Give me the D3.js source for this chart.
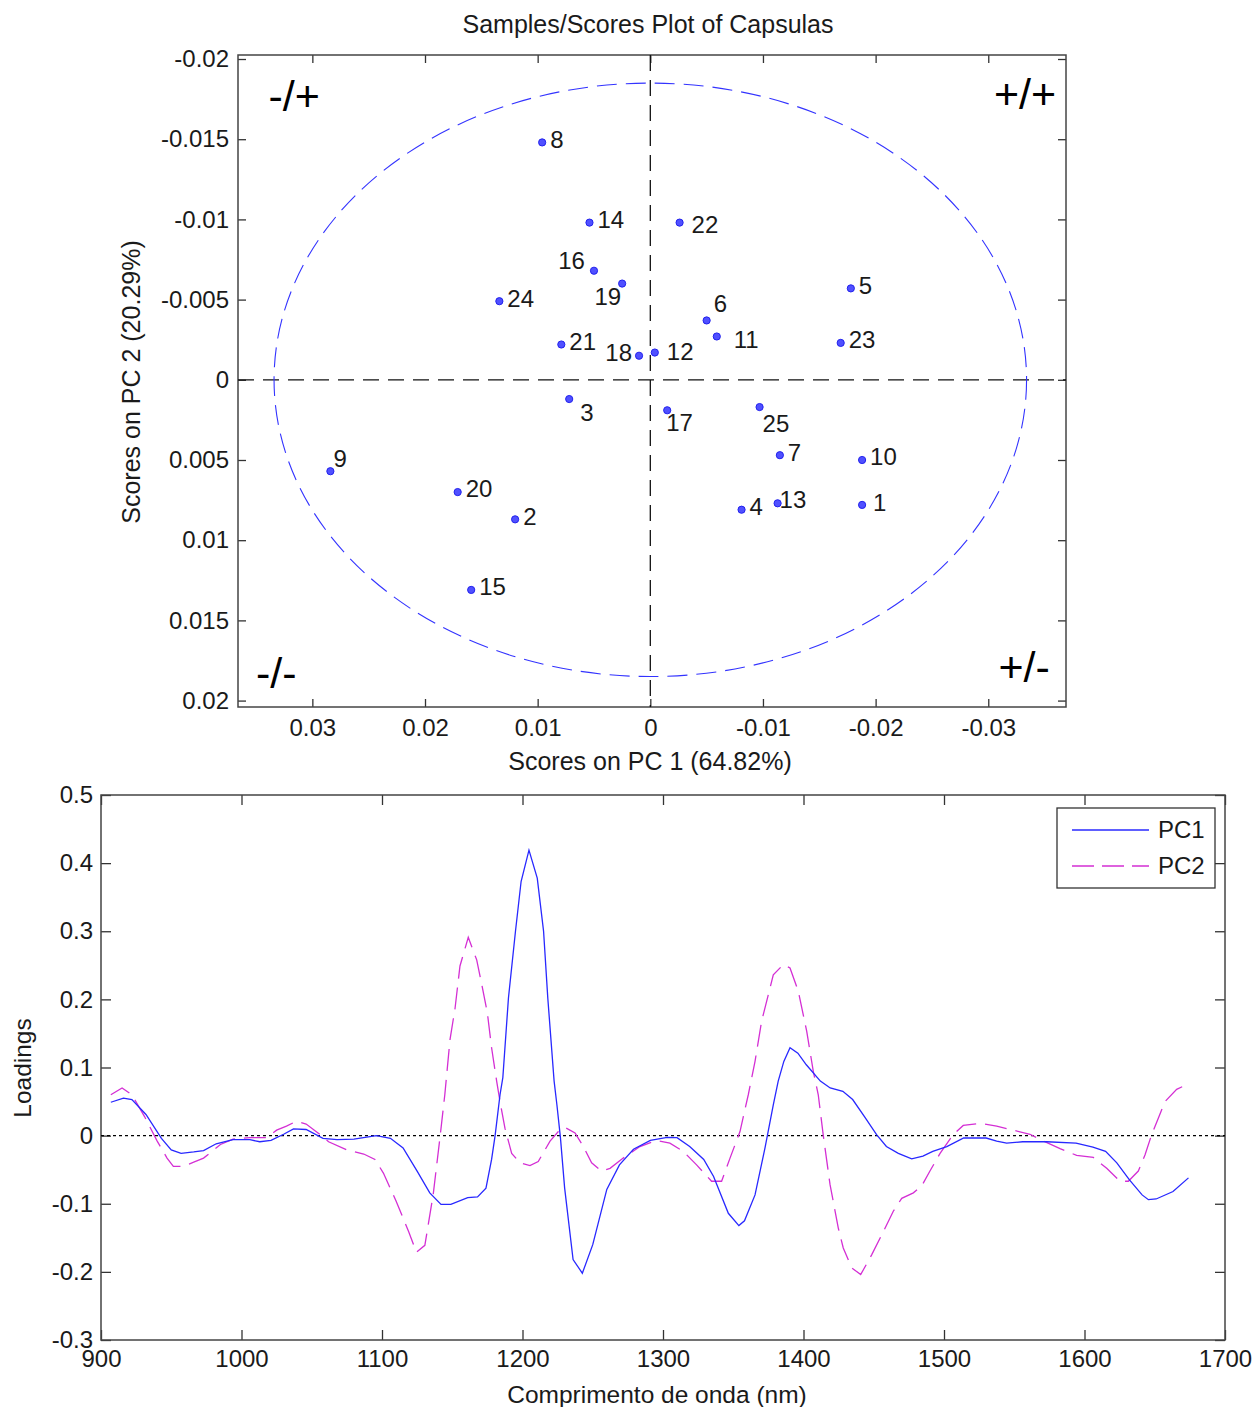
<!DOCTYPE html>
<html>
<head>
    <meta charset="utf-8">
    <title>Scores and Loadings</title>
    <style type="text/css">
        body{
            margin:0;
            padding:0;
            background:#fff;
            font-family: 'Liberation Sans', Arial, sans-serif;
        }
        text {
            fill: #1a1a1a;
        }
    </style>
</head>

<body>
<script src="https://cdnjs.cloudflare.com/ajax/libs/d3/7.8.5/d3.min.js"></script>
<script>

    var width = 1256,
        height = 1407;

    // scores plot
    var sampleIds = [1, 2, 3, 4, 5, 6, 7, 8, 9, 10, 11, 12, 13, 14, 15, 16, 17, 18, 19, 20, 21, 22, 23, 24, 25];
    var pc1Scores = [-0.0188, 0.0120, 0.0072, -0.0081, -0.0178, -0.0050, -0.0115, 0.0096, 0.0284, -0.0188,
                     -0.0059, -0.0004, -0.0113, 0.0054, 0.0159, 0.0050, -0.0015, 0.0010, 0.0025, 0.0171,
                     0.0079, -0.0026, -0.0169, 0.0134, -0.0097];
    var pc2Scores = [0.0078, 0.0087, 0.0012, 0.0081, -0.0057, -0.0037, 0.0047, -0.0148, 0.0057, 0.0050,
                     -0.0027, -0.0017, 0.0077, -0.0098, 0.0131, -0.0068, 0.0019, -0.0015, -0.0060, 0.0070,
                     -0.0022, -0.0098, -0.0023, -0.0049, 0.0017];
    var scoreXTicks = [0.03, 0.02, 0.01, 0, -0.01, -0.02, -0.03];
    var scoreYTicks = [-0.02, -0.015, -0.01, -0.005, 0, 0.005, 0.01, 0.015, 0.02];
    var ellipseAxes = [0.0334, 0.0185];   // 95% limit
    var quadrantLabels = ["-/+", "+/+", "-/-", "+/-"];
    var quadrantPos = [[0.0339, -0.0177], [-0.0305, -0.0178], [0.0350, 0.0183], [-0.0309, 0.0179]];

    // loadings plot
    var pc1Nm = [907, 916, 922, 932, 943, 950, 957, 966, 973, 982, 994, 1006, 1013, 1021, 1030, 1037, 1046, 1058,
                 1068, 1080, 1096, 1106, 1115, 1125, 1134, 1142, 1149, 1161, 1168, 1174, 1178, 1180.5, 1184, 1186,
                 1190, 1195, 1199, 1204.6, 1210.5, 1215, 1218, 1222.5, 1224.5, 1227, 1230, 1236, 1242.6, 1250, 1260,
                 1269, 1279, 1291, 1303, 1310, 1319, 1329, 1336, 1346.5, 1354, 1358, 1365.5, 1372.6, 1378.5, 1382,
                 1386, 1390.4, 1396, 1402, 1412, 1419, 1428, 1435, 1444, 1452, 1459, 1467.5, 1477, 1485, 1492, 1502,
                 1514, 1530, 1537.5, 1544.6, 1556, 1573, 1594, 1606, 1615, 1623, 1632, 1641, 1645.5, 1651, 1663, 1674];
    var pc1Load = [0.049, 0.055, 0.053, 0.031, -0.004, -0.021, -0.026, -0.024, -0.022, -0.012, -0.006, -0.006, -0.009,
                   -0.007, 0.002, 0.010, 0.009, -0.004, -0.006, -0.005, 0.000, -0.004, -0.018, -0.052, -0.084, -0.101,
                   -0.101, -0.091, -0.090, -0.077, -0.035, 0.000, 0.060, 0.085, 0.202, 0.300, 0.373, 0.419, 0.378,
                   0.300, 0.202, 0.080, 0.045, -0.003, -0.077, -0.182, -0.202, -0.160, -0.079, -0.043, -0.020, -0.007,
                   -0.0025, -0.003, -0.016, -0.035, -0.060, -0.114, -0.132, -0.125, -0.087, -0.018, 0.045, 0.080,
                   0.109, 0.129, 0.121, 0.104, 0.080, 0.070, 0.065, 0.053, 0.026, 0.0015, -0.016, -0.026, -0.034,
                   -0.030, -0.023, -0.016, -0.0035, -0.0035, -0.008, -0.011, -0.009, -0.009, -0.011, -0.017, -0.023,
                   -0.040, -0.065, -0.087, -0.094, -0.093, -0.082, -0.062];
    var pc2Nm = [907, 915, 922, 931, 940, 947, 951.5, 958.6, 966, 973, 985, 994, 1006, 1018, 1025, 1032, 1039, 1046,
                 1056, 1062, 1075, 1087, 1095, 1101, 1110, 1119, 1124.5, 1130.5, 1136.4, 1141.2, 1144.7, 1148.4, 1152,
                 1155.5, 1161.4, 1167.4, 1171, 1175, 1178, 1181.6, 1184, 1187.5, 1192.3, 1198.2, 1205.3, 1211.2,
                 1219.6, 1225.5, 1230.2, 1237.4, 1243.3, 1249.2, 1256.3, 1262.3, 1271.7, 1283.6, 1295.4, 1304.9,
                 1314.4, 1323.9, 1334.6, 1341.7, 1347.7, 1354.8, 1360.7, 1365.5, 1370.2, 1378.5, 1385.6, 1390.4,
                 1396.3, 1402.3, 1407, 1410.5, 1414.1, 1418.9, 1424.8, 1428.3, 1434.3, 1440.7, 1448.5, 1456.8, 1463.9,
                 1469.9, 1478.2, 1484.1, 1490, 1497.2, 1506.6, 1513.7, 1525.6, 1537.5, 1549.3, 1561.2, 1570.7, 1582.6,
                 1594.4, 1606.3, 1615.8, 1625.3, 1631.2, 1638.3, 1643.1, 1647.8, 1652.6, 1657.3, 1665.6, 1675.1];
    var pc2Load = [0.060, 0.070, 0.060, 0.028, -0.008, -0.033, -0.045, -0.045, -0.039, -0.033, -0.013, -0.005, -0.003,
                   -0.003, 0.008, 0.014, 0.021, 0.017, 0.0015, -0.009, -0.021, -0.027, -0.035, -0.055, -0.096, -0.141,
                   -0.171, -0.161, -0.087, -0.004, 0.060, 0.141, 0.187, 0.249, 0.291, 0.258, 0.222, 0.180, 0.129,
                   0.080, 0.050, 0.011, -0.026, -0.040, -0.044, -0.038, -0.008, 0.006, 0.012, 0.004, -0.016, -0.040,
                   -0.052, -0.048, -0.033, -0.016, -0.007, -0.011, -0.023, -0.043, -0.067, -0.067, -0.033, 0.006,
                   0.060, 0.109, 0.168, 0.236, 0.251, 0.246, 0.212, 0.153, 0.094, 0.060, 0.000, -0.072, -0.136,
                   -0.165, -0.194, -0.204, -0.175, -0.141, -0.111, -0.092, -0.084, -0.074, -0.052, -0.026, 0.0015,
                   0.015, 0.018, 0.014, 0.008, 0.002, -0.008, -0.019, -0.029, -0.032, -0.048, -0.067, -0.067, -0.052,
                   -0.028, 0.0015, 0.026, 0.050, 0.068, 0.077];
    var loadXTicks = [900, 1000, 1100, 1200, 1300, 1400, 1500, 1600, 1700];
    var loadYTicks = [-0.3, -0.2, -0.1, 0, 0.1, 0.2, 0.3, 0.4, 0.5];

    // label nudges (px): [dx, dy, anchor]
    var labelNudge = {
        1: [11, -2], 3: [11, 14], 6: [7, -17], 9: [3, -13], 11: [17, 3], 12: [12, -1], 13: [2, -4],
        16: [-9, -10, "end"], 17: [-1, 12], 18: [-7, -3, "end"], 19: [-1, 13, "end"], 22: [12, 2], 25: [3, 17]
    };

    var svg = d3.select("body").append("svg")
        .attr("width", width)
        .attr("height", height);

    function fmt(d) { return d === 0 ? "0" : String(d); }

    // ---------- scores ----------
    var box1 = {left: 238, right: 1066, top: 55, bottom: 707};
    var x1 = d3.scaleLinear().domain([0.0366, -0.0369]).range([box1.left, box1.right]);
    var y1 = d3.scaleLinear().domain([-0.02025, 0.0204]).range([box1.top, box1.bottom]);

    var g1 = svg.append("g");

    g1.append("g")
        .attr("transform", "translate(0," + box1.bottom + ")")
        .call(d3.axisBottom(x1).tickValues(scoreXTicks).tickFormat(fmt).tickSizeInner(-8).tickSizeOuter(0).tickPadding(12));
    g1.append("g")
        .attr("transform", "translate(0," + box1.top + ")")
        .call(d3.axisTop(x1).tickValues(scoreXTicks).tickFormat("").tickSizeInner(-8).tickSizeOuter(0));
    g1.append("g")
        .attr("transform", "translate(" + box1.left + ",0)")
        .call(d3.axisLeft(y1).tickValues(scoreYTicks).tickFormat(fmt).tickSizeInner(-8).tickSizeOuter(0).tickPadding(9));
    g1.append("g")
        .attr("transform", "translate(" + box1.right + ",0)")
        .call(d3.axisRight(y1).tickValues(scoreYTicks).tickFormat("").tickSizeInner(-8).tickSizeOuter(0));

    g1.append("rect")
        .attr("x", box1.left).attr("y", box1.top)
        .attr("width", box1.right - box1.left).attr("height", box1.bottom - box1.top)
        .attr("fill", "none").attr("stroke", "#444").attr("stroke-width", 1.5);

    // zero lines
    g1.append("line")
        .attr("x1", box1.left).attr("x2", box1.right)
        .attr("y1", y1(0)).attr("y2", y1(0))
        .attr("stroke", "#111").attr("stroke-width", 1.3).attr("stroke-dasharray", "16,9");
    g1.append("line")
        .attr("x1", x1(0)).attr("x2", x1(0))
        .attr("y1", box1.top).attr("y2", box1.bottom)
        .attr("stroke", "#111").attr("stroke-width", 1.3).attr("stroke-dasharray", "16,9");

    // confidence ellipse
    g1.append("ellipse")
        .attr("cx", x1(0)).attr("cy", y1(0))
        .attr("rx", Math.abs(x1(ellipseAxes[0]) - x1(0)))
        .attr("ry", Math.abs(y1(ellipseAxes[1]) - y1(0)))
        .attr("fill", "none").attr("stroke", "#3333ff").attr("stroke-width", 1.1)
        .attr("stroke-dasharray", "20,9");

    var samples = sampleIds.map(function (id, i) {
        return {id: id, x: pc1Scores[i], y: pc2Scores[i]};
    });

    g1.append("g").selectAll("circle")
        .data(samples).enter()
        .append("circle")
        .attr("cx", function (d) { return x1(d.x); })
        .attr("cy", function (d) { return y1(d.y); })
        .attr("r", 3.6)
        .attr("fill", "#5050ff")
        .attr("stroke", "#2222ee")
        .attr("stroke-width", 1);

    g1.append("g").selectAll("text")
        .data(samples).enter()
        .append("text")
        .attr("x", function (d) { var n = labelNudge[d.id] || [8, -3]; return x1(d.x) + n[0]; })
        .attr("y", function (d) { var n = labelNudge[d.id] || [8, -3]; return y1(d.y) + n[1]; })
        .attr("dy", "0.35em")
        .attr("text-anchor", function (d) { var n = labelNudge[d.id]; return n && n[2] ? n[2] : "start"; })
        .style("font-size", "24px")
        .text(function (d) { return d.id; });

    g1.append("g").selectAll("text")
        .data(quadrantLabels).enter()
        .append("text")
        .attr("x", function (d, i) { return x1(quadrantPos[i][0]); })
        .attr("y", function (d, i) { return y1(quadrantPos[i][1]); })
        .attr("dy", "0.35em")
        .style("font-size", "43px")
        .style("fill", "#000")
        .text(function (d) { return d; });

    svg.append("text")
        .attr("x", 648).attr("y", 24).attr("dy", "0.35em")
        .attr("text-anchor", "middle")
        .style("font-size", "25px")
        .text("Samples/Scores Plot of Capsulas");
    svg.append("text")
        .attr("x", 650).attr("y", 761).attr("dy", "0.35em")
        .attr("text-anchor", "middle")
        .style("font-size", "25px")
        .text("Scores on PC 1 (64.82%)");
    svg.append("text")
        .attr("transform", "translate(131,382) rotate(-90)")
        .attr("dy", "0.35em")
        .attr("text-anchor", "middle")
        .style("font-size", "25px")
        .text("Scores on PC 2 (20.29%)");

    // ---------- loadings ----------
    var box2 = {left: 101, right: 1225, top: 795, bottom: 1340};
    var x2 = d3.scaleLinear().domain([900, 1700]).range([box2.left, box2.right]);
    var y2 = d3.scaleLinear().domain([-0.3, 0.5]).range([box2.bottom, box2.top]);

    var g2 = svg.append("g");

    g2.append("g")
        .attr("transform", "translate(0," + box2.bottom + ")")
        .call(d3.axisBottom(x2).tickValues(loadXTicks).tickFormat(d3.format("d")).tickSizeInner(-10).tickSizeOuter(0).tickPadding(10));
    g2.append("g")
        .attr("transform", "translate(0," + box2.top + ")")
        .call(d3.axisTop(x2).tickValues(loadXTicks).tickFormat("").tickSizeInner(-10).tickSizeOuter(0));
    g2.append("g")
        .attr("transform", "translate(" + box2.left + ",0)")
        .call(d3.axisLeft(y2).tickValues(loadYTicks).tickFormat(fmt).tickSizeInner(-10).tickSizeOuter(0).tickPadding(8));
    g2.append("g")
        .attr("transform", "translate(" + box2.right + ",0)")
        .call(d3.axisRight(y2).tickValues(loadYTicks).tickFormat("").tickSizeInner(-10).tickSizeOuter(0));

    g2.selectAll(".domain").remove();
    g1.selectAll(".domain").remove();
    svg.selectAll(".tick line").attr("stroke", "#333").attr("stroke-width", 1.3);

    g2.append("rect")
        .attr("x", box2.left).attr("y", box2.top)
        .attr("width", box2.right - box2.left).attr("height", box2.bottom - box2.top)
        .attr("fill", "none").attr("stroke", "#444").attr("stroke-width", 1.5);

    g2.append("line")
        .attr("x1", box2.left).attr("x2", box2.right)
        .attr("y1", y2(0)).attr("y2", y2(0))
        .attr("stroke", "#000").attr("stroke-width", 1.2).attr("stroke-dasharray", "3,3");

    var line = d3.line()
        .x(function (d) { return x2(d[0]); })
        .y(function (d) { return y2(d[1]); });

    var pc1 = pc1Nm.map(function (n, i) { return [n, pc1Load[i]]; });
    var pc2 = pc2Nm.map(function (n, i) { return [n, pc2Load[i]]; });

    g2.append("path")
        .datum(pc2)
        .attr("d", line)
        .attr("fill", "none").attr("stroke", "#d42fd4").attr("stroke-width", 1.3)
        .attr("stroke-dasharray", "22,9");
    g2.append("path")
        .datum(pc1)
        .attr("d", line)
        .attr("fill", "none").attr("stroke", "#2828ff").attr("stroke-width", 1.3);

    // legend
    var lg = g2.append("g");
    lg.append("rect")
        .attr("x", 1057).attr("y", 808).attr("width", 158).attr("height", 80)
        .attr("fill", "#fff").attr("stroke", "#333").attr("stroke-width", 1.3);
    lg.append("line")
        .attr("x1", 1072).attr("x2", 1149).attr("y1", 830).attr("y2", 830)
        .attr("stroke", "#2828ff").attr("stroke-width", 1.3);
    lg.append("line")
        .attr("x1", 1072).attr("x2", 1149).attr("y1", 866).attr("y2", 866)
        .attr("stroke", "#d42fd4").attr("stroke-width", 1.3).attr("stroke-dasharray", "22,8");
    lg.append("text").attr("x", 1158).attr("y", 830).attr("dy", "0.35em")
        .style("font-size", "24px").text("PC1");
    lg.append("text").attr("x", 1158).attr("y", 866).attr("dy", "0.35em")
        .style("font-size", "24px").text("PC2");

    svg.append("text")
        .attr("x", 657).attr("y", 1394).attr("dy", "0.35em")
        .attr("text-anchor", "middle")
        .style("font-size", "24.5px")
        .text("Comprimento de onda (nm)");
    svg.append("text")
        .attr("transform", "translate(22,1068) rotate(-90)")
        .attr("dy", "0.35em")
        .attr("text-anchor", "middle")
        .style("font-size", "24.5px")
        .text("Loadings");

    svg.selectAll(".tick text")
        .style("font-family", "'Liberation Sans', Arial, sans-serif")
        .style("font-size", "24px")
        .style("fill", "#1a1a1a");

</script>
</body>
</html>
